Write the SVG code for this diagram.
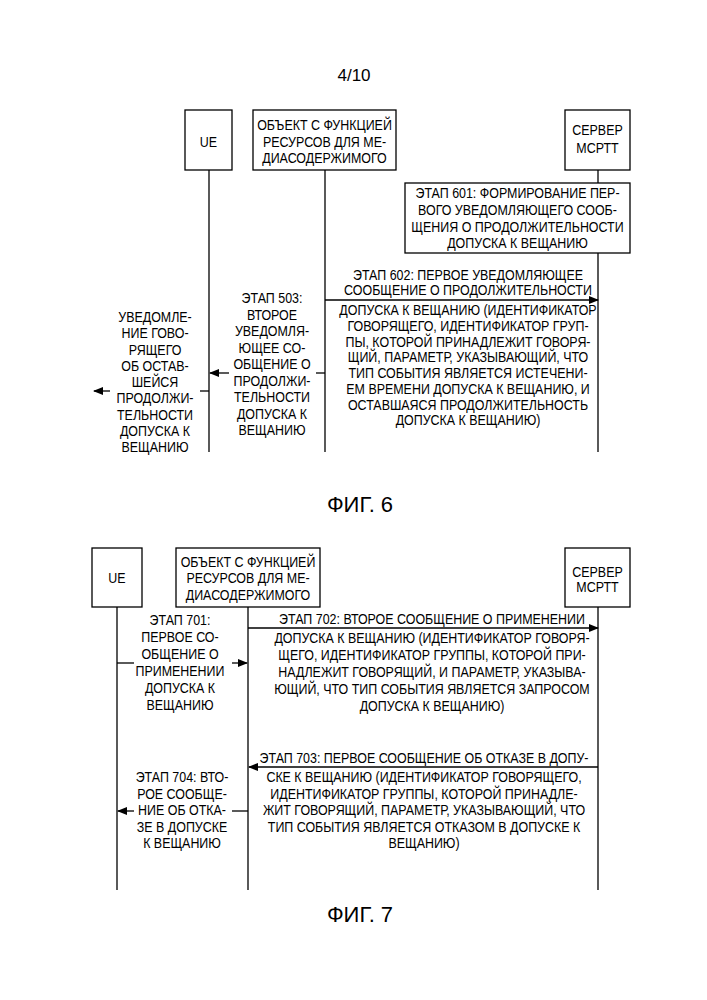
<svg xmlns="http://www.w3.org/2000/svg" width="707" height="1000" viewBox="0 0 707 1000">
<defs>
<marker id="ah" markerWidth="10" markerHeight="8" refX="9" refY="4" orient="auto" markerUnits="userSpaceOnUse"><path d="M0,0 L10,4 L0,8 z" fill="#000"/></marker>
</defs>
<style>
rect{fill:#fff;stroke:#000;stroke-width:1.3}
line{stroke:#000;stroke-width:1.3}
.a{marker-end:url(#ah)}
text{font-family:"Liberation Sans",Arial,sans-serif;font-size:15px;text-anchor:middle;fill:#000}
.big{font-size:22px}
</style>
<rect x="0" y="0" width="707" height="1000" style="stroke:none"/>
<text x="354" y="81" style="font-size:17px">4/10</text>
<g id="lifelines6">
<line x1="209" y1="170" x2="209" y2="452"/>
<line x1="325" y1="170" x2="325" y2="452"/>
<line x1="598" y1="170" x2="598" y2="183"/>
<line x1="598" y1="253" x2="598" y2="452"/>
</g>
<g id="ue6"><rect x="185" y="110" width="47" height="60"/><text transform="translate(208.5 147) scale(0.83 1)" x="0">UE</text></g>
<g id="obj6"><rect x="253" y="110" width="143" height="60"/><text transform="translate(324.5 0) scale(0.83 1)"><tspan x="0" y="130">ОБЪЕКТ С ФУНКЦИЕЙ</tspan><tspan x="0" y="147">РЕСУРСОВ ДЛЯ МЕ-</tspan><tspan x="0" y="163">ДИАСОДЕРЖИМОГО</tspan></text></g>
<g id="srv6"><rect x="565" y="110" width="65" height="60"/><text transform="translate(597.5 0) scale(0.83 1)"><tspan x="0" y="135">СЕРВЕР</tspan><tspan x="0" y="153">МСРТТ</tspan></text></g>
<g id="step601"><rect x="405" y="183" width="225" height="70"/><text transform="translate(517.5 0) scale(0.83 1)"><tspan x="0" y="198">ЭТАП 601: ФОРМИРОВАНИЕ ПЕР-</tspan><tspan x="0" y="215">ВОГО УВЕДОМЛЯЮЩЕГО СООБ-</tspan><tspan x="0" y="232">ЩЕНИЯ О ПРОДОЛЖИТЕЛЬНОСТИ</tspan><tspan x="0" y="248">ДОПУСКА К ВЕЩАНИЮ</tspan></text></g>
<g id="connectors6">
<line class="a" x1="325" y1="300" x2="598" y2="300"/>
<line x1="325" y1="373" x2="316" y2="373"/>
<line class="a" x1="229" y1="373" x2="210" y2="373"/>
<line x1="209" y1="391" x2="200" y2="391"/>
<line class="a" x1="110" y1="391" x2="94" y2="391"/>
</g>
<g id="t602"><text transform="translate(468 0) scale(0.83 1)"><tspan x="0" y="280">ЭТАП 602: ПЕРВОЕ УВЕДОМЛЯЮЩЕЕ</tspan><tspan x="0" y="295">СООБЩЕНИЕ О ПРОДОЛЖИТЕЛЬНОСТИ</tspan><tspan x="0" y="315">ДОПУСКА К ВЕЩАНИЮ (ИДЕНТИФИКАТОР</tspan><tspan x="0" y="331">ГОВОРЯЩЕГО, ИДЕНТИФИКАТОР ГРУП-</tspan><tspan x="0" y="347">ПЫ, КОТОРОЙ ПРИНАДЛЕЖИТ ГОВОРЯ-</tspan><tspan x="0" y="362">ЩИЙ, ПАРАМЕТР, УКАЗЫВАЮЩИЙ, ЧТО</tspan><tspan x="0" y="378">ТИП СОБЫТИЯ ЯВЛЯЕТСЯ ИСТЕЧЕНИ-</tspan><tspan x="0" y="394">ЕМ ВРЕМЕНИ ДОПУСКА К ВЕЩАНИЮ, И</tspan><tspan x="0" y="410">ОСТАВШАЯСЯ ПРОДОЛЖИТЕЛЬНОСТЬ</tspan><tspan x="0" y="425">ДОПУСКА К ВЕЩАНИЮ)</tspan></text></g>
<g id="t503"><text transform="translate(272 0) scale(0.83 1)"><tspan x="0" y="303">ЭТАП 503:</tspan><tspan x="0" y="320">ВТОРОЕ</tspan><tspan x="0" y="336">УВЕДОМЛЯ-</tspan><tspan x="0" y="353">ЮЩЕЕ СО-</tspan><tspan x="0" y="369">ОБЩЕНИЕ О</tspan><tspan x="0" y="386">ПРОДОЛЖИ-</tspan><tspan x="0" y="402">ТЕЛЬНОСТИ</tspan><tspan x="0" y="419">ДОПУСКА К</tspan><tspan x="0" y="435">ВЕЩАНИЮ</tspan></text></g>
<g id="tnotify"><text transform="translate(155 0) scale(0.83 1)"><tspan x="0" y="322">УВЕДОМЛЕ-</tspan><tspan x="0" y="338">НИЕ ГОВО-</tspan><tspan x="0" y="355">РЯЩЕГО</tspan><tspan x="0" y="371">ОБ ОСТАВ-</tspan><tspan x="0" y="387">ШЕЙСЯ</tspan><tspan x="0" y="403">ПРОДОЛЖИ-</tspan><tspan x="0" y="420">ТЕЛЬНОСТИ</tspan><tspan x="0" y="436">ДОПУСКА К</tspan><tspan x="0" y="452">ВЕЩАНИЮ</tspan></text></g>
<text class="big" x="360" y="512">ФИГ. 6</text>

<g id="lifelines7">
<line x1="117" y1="607" x2="117" y2="890"/>
<line x1="248" y1="607" x2="248" y2="890"/>
<line x1="598" y1="607" x2="598" y2="890"/>
</g>
<g id="ue7"><rect x="92" y="548" width="50" height="59"/><text transform="translate(117 583) scale(0.83 1)" x="0">UE</text></g>
<g id="obj7"><rect x="176" y="548" width="144" height="59"/><text transform="translate(248 0) scale(0.83 1)"><tspan x="0" y="567">ОБЪЕКТ С ФУНКЦИЕЙ</tspan><tspan x="0" y="583">РЕСУРСОВ ДЛЯ МЕ-</tspan><tspan x="0" y="600">ДИАСОДЕРЖИМОГО</tspan></text></g>
<g id="srv7"><rect x="565" y="548" width="65" height="59"/><text transform="translate(597.5 0) scale(0.83 1)"><tspan x="0" y="577">СЕРВЕР</tspan><tspan x="0" y="592">МСРТТ</tspan></text></g>
<g id="connectors7">
<line class="a" x1="248" y1="628" x2="598" y2="628"/>
<line x1="117" y1="663" x2="134" y2="663"/>
<line class="a" x1="232" y1="663" x2="247" y2="663"/>
<line class="a" x1="598" y1="767" x2="249" y2="767"/>
<line x1="248" y1="811" x2="232" y2="811"/>
<line class="a" x1="134" y1="811" x2="118" y2="811"/>
</g>
<g id="t702"><text transform="translate(432 0) scale(0.83 1)"><tspan x="0" y="624">ЭТАП 702: ВТОРОЕ СООБЩЕНИЕ О ПРИМЕНЕНИИ</tspan><tspan x="0" y="643">ДОПУСКА К ВЕЩАНИЮ (ИДЕНТИФИКАТОР ГОВОРЯ-</tspan><tspan x="0" y="660">ЩЕГО, ИДЕНТИФИКАТОР ГРУППЫ, КОТОРОЙ ПРИ-</tspan><tspan x="0" y="677">НАДЛЕЖИТ ГОВОРЯЩИЙ, И ПАРАМЕТР, УКАЗЫВА-</tspan><tspan x="0" y="694">ЮЩИЙ, ЧТО ТИП СОБЫТИЯ ЯВЛЯЕТСЯ ЗАПРОСОМ</tspan><tspan x="0" y="711">ДОПУСКА К ВЕЩАНИЮ)</tspan></text></g>
<g id="t701"><text transform="translate(180 0) scale(0.83 1)"><tspan x="0" y="625">ЭТАП 701:</tspan><tspan x="0" y="642">ПЕРВОЕ СО-</tspan><tspan x="0" y="659">ОБЩЕНИЕ О</tspan><tspan x="0" y="676">ПРИМЕНЕНИИ</tspan><tspan x="0" y="693">ДОПУСКА К</tspan><tspan x="0" y="710">ВЕЩАНИЮ</tspan></text></g>
<g id="t703"><text transform="translate(424 0) scale(0.83 1)"><tspan x="0" y="763">ЭТАП 703: ПЕРВОЕ СООБЩЕНИЕ ОБ ОТКАЗЕ В ДОПУ-</tspan><tspan x="0" y="782">СКЕ К ВЕЩАНИЮ (ИДЕНТИФИКАТОР ГОВОРЯЩЕГО,</tspan><tspan x="0" y="799">ИДЕНТИФИКАТОР ГРУППЫ, КОТОРОЙ ПРИНАДЛЕ-</tspan><tspan x="0" y="815">ЖИТ ГОВОРЯЩИЙ, ПАРАМЕТР, УКАЗЫВАЮЩИЙ, ЧТО</tspan><tspan x="0" y="832">ТИП СОБЫТИЯ ЯВЛЯЕТСЯ ОТКАЗОМ В ДОПУСКЕ К</tspan><tspan x="0" y="848">ВЕЩАНИЮ)</tspan></text></g>
<g id="t704"><text transform="translate(182 0) scale(0.83 1)"><tspan x="0" y="782">ЭТАП 704: ВТО-</tspan><tspan x="0" y="799">РОЕ СООБЩЕ-</tspan><tspan x="0" y="815">НИЕ ОБ ОТКА-</tspan><tspan x="0" y="832">ЗЕ В ДОПУСКЕ</tspan><tspan x="0" y="848">К ВЕЩАНИЮ</tspan></text></g>
<text class="big" x="360" y="922">ФИГ. 7</text>
</svg>
